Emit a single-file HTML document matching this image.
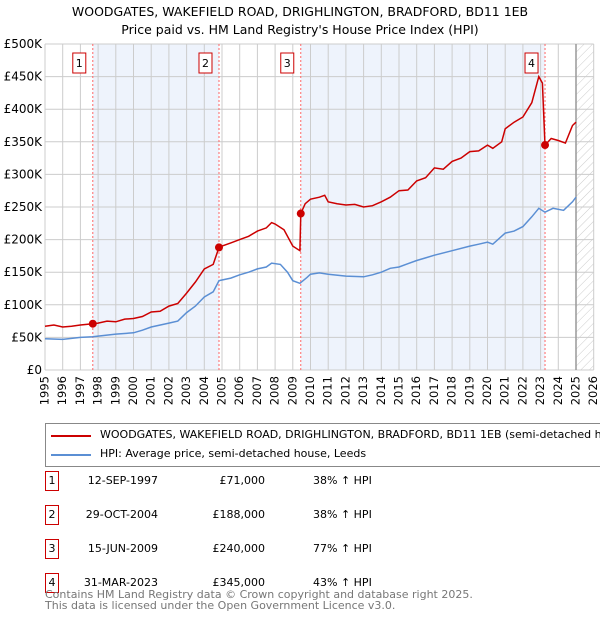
<!DOCTYPE html>
<html><head><meta charset="utf-8"><style>
body{margin:0;width:600px;height:620px;background:#fff;font-family:"DejaVu Sans","Liberation Sans",sans-serif;overflow:hidden;position:relative}
svg{position:absolute;left:0;top:0;font-family:"DejaVu Sans","Liberation Sans",sans-serif}
.t{position:absolute;font-size:11.5px;color:#000;white-space:nowrap}
</style></head><body>
<svg width="600" height="620">
<defs><pattern id="hatch" width="6" height="6" patternUnits="userSpaceOnUse" patternTransform="rotate(45)"><line x1="0" y1="0" x2="0" y2="6" stroke="#ccc" stroke-width="1"/></pattern></defs>
<text x="300" y="16" text-anchor="middle" font-size="12.5">WOODGATES, WAKEFIELD ROAD, DRIGHLINGTON, BRADFORD, BD11 1EB</text>
<text x="300" y="34" text-anchor="middle" font-size="12.5">Price paid vs. HM Land Registry's House Price Index (HPI)</text>
<g id="plot"></g>
</svg>
<div style="position:absolute;left:45px;top:423px;width:560px;height:44px;border:1px solid #888;box-sizing:border-box;overflow:hidden">
<div style="position:absolute;left:5px;top:11px;width:40px;height:2px;background:#cc0000"></div>
<div class="t" style="left:54px;top:4px;font-size:11px">WOODGATES, WAKEFIELD ROAD, DRIGHLINGTON, BRADFORD, BD11 1EB (semi-detached house)</div>
<div style="position:absolute;left:5px;top:30px;width:40px;height:2px;background:#5b8fd4"></div>
<div class="t" style="left:54px;top:23px;font-size:11px">HPI: Average price, semi-detached house, Leeds</div>
</div>
<div id="tbl"></div>
<div class="t" style="left:45px;top:589px;color:#777;font-size:11px;line-height:11px">Contains HM Land Registry data © Crown copyright and database right 2025.<br>This data is licensed under the Open Government Licence v3.0.</div>
<script>
const yearTicks=[1995,1996,1997,1998,1999,2000,2001,2002,2003,2004,2005,2006,2007,2008,2009,2010,2011,2012,2013,2014,2015,2016,2017,2018,2019,2020,2021,2022,2023,2024,2025,2026];
const yTicks=[0,50,100,150,200,250,300,350,400,450,500];
const yLabels=["£0","£50K","£100K","£150K","£200K","£250K","£300K","£350K","£400K","£450K","£500K"];
const redT=[1995,1995.5,1996,1996.5,1997,1997.7,1998,1998.5,1999,1999.5,2000,2000.5,2001,2001.5,2002,2002.5,2003,2003.5,2004,2004.5,2004.83,2005,2005.5,2006,2006.5,2007,2007.5,2007.8,2008,2008.5,2009,2009.4,2009.45,2009.7,2010,2010.5,2010.8,2011,2011.5,2012,2012.5,2013,2013.5,2014,2014.5,2015,2015.5,2016,2016.5,2017,2017.5,2018,2018.5,2019,2019.5,2020,2020.3,2020.8,2021,2021.5,2022,2022.5,2022.9,2023.1,2023.25,2023.6,2024,2024.4,2024.8,2025];
const redV=[67,69,66,67,69,71,72,75,74,78,79,82,89,90,98,102,118,135,155,162,188,190,195,200,205,213,218,226,224,215,190,183,240,255,262,265,268,258,255,253,254,250,252,258,265,275,276,290,295,310,308,320,325,335,336,345,340,350,370,380,388,410,450,440,345,355,352,348,375,380];
const hpiT=[1995,1996,1997,1997.7,1998,1999,2000,2000.5,2001,2002,2002.5,2003,2003.5,2004,2004.5,2004.83,2005,2005.5,2006,2006.5,2007,2007.5,2007.8,2008.3,2008.7,2009,2009.4,2009.8,2010,2010.5,2011,2012,2013,2013.5,2014,2014.5,2015,2015.5,2016,2016.5,2017,2018,2019,2019.5,2020,2020.3,2021,2021.5,2022,2022.5,2022.9,2023.25,2023.7,2024.3,2024.8,2025];
const hpiV=[48,47,50,51,52,55,57,61,66,72,75,88,98,112,120,137,138,141,146,150,155,158,164,162,150,137,133,142,147,149,147,144,143,146,150,156,158,163,168,172,176,183,190,193,196,193,210,213,220,235,248,242,248,245,258,265];
const saleT=[1997.7,2004.83,2009.45,2023.25];
const saleV=[71,188,240,345];
const saleLabels=["1","2","3","4"];
const saleDates=["12-SEP-1997","29-OCT-2004","15-JUN-2009","31-MAR-2023"];
const salePrices=["£71,000","£188,000","£240,000","£345,000"];
const saleHpi=["38% ↑ HPI","38% ↑ HPI","77% ↑ HPI","43% ↑ HPI"];
const X0=45,X1=593.7,Y0=370,Y1=44;
const x=t=>X0+(t-1995)/(2026-1995)*(X1-X0);
const y=v=>Y0-v/500*(Y0-Y1);
const NS="http://www.w3.org/2000/svg";
const g=document.getElementById('plot');
function mk(tag,attrs,name){const e=document.createElementNS(NS,tag);for(const k in attrs)e.setAttribute(k,attrs[k]);


g.appendChild(e);return e;}
mk('rect',{x:x(saleT[0]),y:Y1,width:x(saleT[1])-x(saleT[0]),height:Y0-Y1,fill:'#eef3fc'},'shade-1');
mk('rect',{x:x(saleT[2]),y:Y1,width:x(saleT[3])-x(saleT[2]),height:Y0-Y1,fill:'#eef3fc'},'shade-2');
mk('rect',{x:x(2025),y:Y1,width:X1-x(2025),height:Y0-Y1,fill:'url(#hatch)'},'forecast-hatch');
yearTicks.forEach(t=>{mk('line',{x1:x(t),x2:x(t),y1:Y1,y2:Y0,stroke:'#ccc'},'x-grid');
const tx=mk('text',{x:x(t),y:Y0+6,'font-size':11.5,'text-anchor':'end',transform:`rotate(-90 ${x(t)} ${Y0+6})`,'dominant-baseline':'middle'},'x-tick-label');tx.textContent=t;});
yTicks.forEach((v,i)=>{mk('line',{x1:X0,x2:X1,y1:y(v),y2:y(v),stroke:'#ccc'},'y-grid');
const tx=mk('text',{x:X0-3,y:y(v)+4,'font-size':12,'text-anchor':'end'},'y-tick-label');tx.textContent=yLabels[i];});
mk('line',{x1:x(2025),x2:x(2025),y1:Y1,y2:Y0,stroke:'#999','stroke-width':1.5},'today-line');
saleT.forEach((t,i)=>{mk('line',{x1:x(t),x2:x(t),y1:Y1,y2:Y0,stroke:'#f66','stroke-dasharray':'2,2'},'sale-line');});
const path=(T,V)=>T.map((t,i)=>(i?'L':'M')+x(t).toFixed(1)+','+y(V[i]).toFixed(1)).join('');
mk('path',{d:path(hpiT,hpiV),fill:'none',stroke:'#5b8fd4','stroke-width':1.5},'hpi-line');
mk('path',{d:path(redT,redV),fill:'none',stroke:'#cc0000','stroke-width':1.5},'price-line');
saleT.forEach((t,i)=>{mk('circle',{cx:x(t),cy:y(saleV[i]),r:4,fill:'#cc0000'},'sale-point');
const bx=x(t)-14;mk('rect',{x:bx-6,y:Y1+9,width:13,height:20,fill:'#fff',stroke:'#cc0000'},'sale-marker-box');
const tx=mk('text',{x:bx+0.5,y:Y1+23,'font-size':11,'text-anchor':'middle'},'sale-marker-label');tx.textContent=saleLabels[i];});
const tb=document.getElementById('tbl');
saleLabels.forEach((l,i)=>{const top=471+i*34;
const r=document.createElement('div');r.style.cssText=`position:absolute;left:0;top:${top}px;width:600px;height:18px`;


r.innerHTML=`<div style="position:absolute;left:45px;top:0;width:14px;height:20px;border:1px solid #cc0000;box-sizing:border-box;font-size:11px;text-align:center;line-height:18px">${l}</div>
<div class="t" style="right:${600-158}px;top:3px;font-size:11px">${saleDates[i]}</div>
<div class="t" style="right:${600-265}px;top:3px;font-size:11px">${salePrices[i]}</div>
<div class="t" style="left:313px;top:3px;font-size:11px">${saleHpi[i]}</div>`;
tb.appendChild(r);});
</script>
</body></html>
